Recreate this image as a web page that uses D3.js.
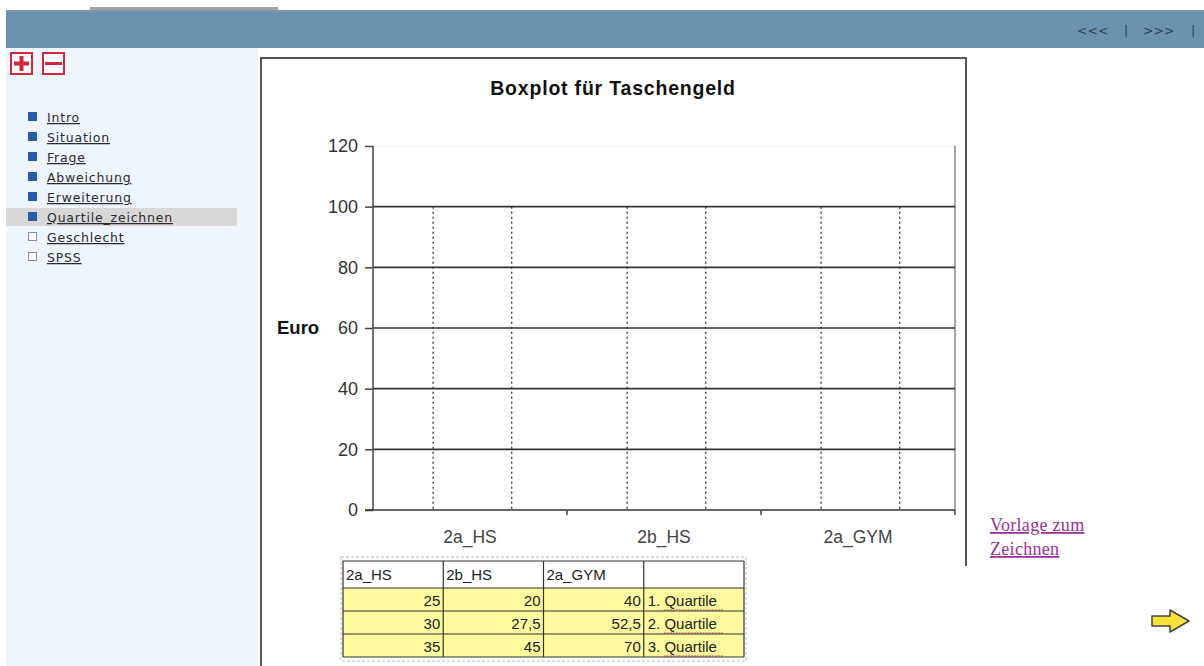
<!DOCTYPE html>
<html>
<head>
<meta charset="utf-8">
<script src="https://cdn.jsdelivr.net/npm/d3@7"></script>
<style>
  body { margin: 0; background: #fff; }
  svg { display: block; }
</style>
</head>
<body>
<div id="page"></div>
<script>
// data
const categories = ["2a_HS", "2b_HS", "2a_GYM"];
const quartile1 = [25, 20, 40];
const quartile2 = [30, 27.5, 52.5];
const quartile3 = [35, 45, 70];
const rowLabels = ["1. Quartile", "2. Quartile", "3. Quartile"];
const yTicks = [0, 20, 40, 60, 80, 100, 120];
const navItems = ["Intro", "Situation", "Frage", "Abweichung", "Erweiterung", "Quartile_zeichnen", "Geschlecht", "SPSS"];
const navDone = [true, true, true, true, true, true, false, false];
const currentItem = "Quartile_zeichnen";

const W = 1204, H = 666;
const svg = d3.select("#page").append("svg")
    .attr("width", W)
    .attr("height", H);

// header bar
svg.append("rect").attr("x", 90).attr("y", 7).attr("width", 188).attr("height", 3).attr("fill", "#9aa4ad");
svg.append("rect").attr("x", 6).attr("y", 10).attr("width", W - 6).attr("height", 38).attr("fill", "#6a91ae");
svg.append("rect").attr("x", 6).attr("y", 10).attr("width", W - 6).attr("height", 1.5).attr("fill", "#8a97a3");

const topNav = svg.append("g")
    .attr("font-family", "DejaVu Sans, Verdana, sans-serif")
    .attr("font-size", 12.5)
    .attr("fill", "#2f4356");
topNav.append("text").attr("x", 1077).attr("y", 35).text("<<<");
topNav.append("text").attr("x", 1124).attr("y", 35).text("|");
topNav.append("text").attr("x", 1143).attr("y", 35).text(">>>");
topNav.append("text").attr("x", 1191).attr("y", 35).text("|");

// sidebar
svg.append("rect").attr("x", 6).attr("y", 48).attr("width", 252).attr("height", H - 48).attr("fill", "#eef5fd");

const icons = svg.append("g").attr("stroke", "#d0283c").attr("fill", "none").attr("stroke-width", 2);
icons.append("rect").attr("x", 11).attr("y", 53).attr("width", 21).attr("height", 21).attr("fill", "#fff");
icons.append("path").attr("d", "M21.5,56V71M14,63.5H29").attr("stroke-width", 4);
icons.append("rect").attr("x", 43).attr("y", 53).attr("width", 21).attr("height", 21).attr("fill", "#fff");
icons.append("path").attr("d", "M45,63.5H62").attr("stroke-width", 3);

const navY = d3.scalePoint().domain(navItems).range([117, 257]);
const nav = svg.append("g").selectAll("g")
    .data(navItems)
    .join("g")
    .attr("transform", d => `translate(0,${navY(d)})`);
nav.filter(d => d === currentItem)
    .append("rect").attr("x", 6).attr("y", -9).attr("width", 231).attr("height", 18).attr("fill", "#d8d8d8");
nav.append("rect")
    .attr("x", 28.5).attr("y", -4.5).attr("width", 8).attr("height", 8)
    .attr("fill", (d, i) => navDone[i] ? "#2a5da8" : "#fff")
    .attr("stroke", (d, i) => navDone[i] ? "#2a5da8" : "#6f93c4");
nav.append("text")
    .attr("x", 47).attr("y", 5)
    .attr("font-family", "DejaVu Sans, Verdana, sans-serif")
    .attr("font-size", 12.5)
    .attr("letter-spacing", 0.8)
    .attr("fill", "#2a2a2a")
    .attr("text-decoration", "underline")
    .text(d => d);

// chart frame
svg.append("path")
    .attr("d", "M261,666V58H966V566")
    .attr("fill", "none")
    .attr("stroke", "#555")
    .attr("stroke-width", 2);

svg.append("text")
    .attr("x", 613).attr("y", 95)
    .attr("text-anchor", "middle")
    .attr("font-family", "Liberation Sans, Arial, sans-serif")
    .attr("font-weight", "bold")
    .attr("font-size", 19.5)
    .attr("letter-spacing", 0.8)
    .attr("fill", "#111")
    .text("Boxplot für Taschengeld");

// scales
const plotL = 373, plotR = 955, plotT = 146, plotB = 510;
const y = d3.scaleLinear().domain([0, 120]).range([plotB, plotT]);
const x = d3.scaleBand().domain(categories).range([plotL, plotR]);

// light top and right edges of plot area
svg.append("path")
    .attr("d", `M${plotL},${plotT}H${plotR}`)
    .attr("stroke", "#eee").attr("fill", "none");
svg.append("line")
    .attr("x1", plotR).attr("x2", plotR).attr("y1", plotT).attr("y2", plotB)
    .attr("stroke", "#888").attr("stroke-width", 1.5);

// horizontal gridlines
svg.append("g").selectAll("line")
    .data(yTicks.filter(d => d > 0 && d < 120))
    .join("line")
    .attr("x1", plotL).attr("x2", plotR)
    .attr("y1", d => y(d)).attr("y2", d => y(d))
    .attr("stroke", "#333").attr("stroke-width", 1.6);

// dotted guide lines for the boxes (template)
const guides = [];
categories.forEach(c => {
  guides.push(x(c) + x.bandwidth() * 0.31);
  guides.push(x(c) + x.bandwidth() * 0.715);
});
svg.append("g").selectAll("line")
    .data(guides)
    .join("line")
    .attr("x1", d => d).attr("x2", d => d)
    .attr("y1", y(100)).attr("y2", plotB)
    .attr("stroke", "#333")
    .attr("stroke-width", 1.3)
    .attr("stroke-dasharray", "2,3");

// y axis
svg.append("g")
    .attr("transform", `translate(${plotL},0)`)
    .call(d3.axisLeft(y).tickValues(yTicks).tickSize(8).tickPadding(7))
    .call(g => g.select(".domain").attr("stroke", "#444").attr("stroke-width", 1.5).attr("d", `M0,${plotT}V${plotB}`))
    .call(g => g.selectAll(".tick line").attr("stroke", "#444").attr("stroke-width", 1.5))
    .call(g => g.selectAll(".tick text")
        .attr("font-family", "Liberation Sans, Arial, sans-serif")
        .attr("font-size", 18)
        .attr("fill", "#333"));

// x axis
svg.append("g")
    .attr("transform", `translate(0,${plotB})`)
    .call(d3.axisBottom(x).tickSize(0).tickPadding(21))
    .call(g => g.select(".domain").attr("stroke", "#333").attr("stroke-width", 1.6).attr("d", `M${plotL - 8},0H${plotR}`))
    .call(g => g.selectAll(".tick text")
        .attr("font-family", "Liberation Sans, Arial, sans-serif")
        .attr("font-size", 17.5)
        .attr("fill", "#444"));
svg.append("g").selectAll("line")
    .data(categories.slice(1).map(c => x(c)).concat([plotR]))
    .join("line")
    .attr("x1", d => d).attr("x2", d => d)
    .attr("y1", plotB).attr("y2", plotB + 5)
    .attr("stroke", "#444").attr("stroke-width", 1.5);

svg.append("text")
    .attr("x", 277).attr("y", 334)
    .attr("font-family", "Liberation Sans, Arial, sans-serif")
    .attr("font-weight", "bold")
    .attr("font-size", 18.5)
    .attr("fill", "#111")
    .text("Euro");

// data table
const tX = d3.scaleBand().domain(d3.range(4)).range([343, 744]);
const tTop = 561, headH = 27, rowH = 23;
const table = svg.append("g")
    .attr("font-family", "Liberation Sans, Arial, sans-serif")
    .attr("font-size", 15)
    .attr("fill", "#222");

table.append("rect")
    .attr("x", 341).attr("y", 557).attr("width", 405).attr("height", 104)
    .attr("fill", "none").attr("stroke", "#bbb").attr("stroke-dasharray", "3,2");
table.append("rect")
    .attr("x", 343).attr("y", tTop + headH).attr("width", 401).attr("height", rowH * 3)
    .attr("fill", "#fbfa9e");

table.selectAll(".head")
    .data(categories)
    .join("text")
    .attr("class", "head")
    .attr("x", (d, i) => tX(i) + 3)
    .attr("y", tTop + 19)
    .text(d => d);

// one row per quartile, one column per class
const rows = [quartile1, quartile2, quartile3];
const fmt = v => String(v).replace(".", ",");
rows.forEach((r, ri) => {
  const ry = tTop + headH + ri * rowH;
  table.selectAll(null)
      .data(r)
      .join("text")
      .attr("x", (d, i) => tX(i) + tX.bandwidth() - 3)
      .attr("y", ry + 18)
      .attr("text-anchor", "end")
      .text(fmt);
  table.append("text")
      .attr("x", tX(3) + 4)
      .attr("y", ry + 18)
      .text(rowLabels[ri]);
  table.append("path")
      .attr("d", `M${tX(3) + 20},${ry + 22}h${60}`)
      .attr("stroke", "#e04040").attr("stroke-width", 1).attr("stroke-dasharray", "2,1");
});

// grid of the table
const tg = table.append("g").attr("stroke", "#333").attr("stroke-width", 1.2);
[tTop, tTop + headH, tTop + headH + rowH, tTop + headH + 2 * rowH, tTop + headH + 3 * rowH].forEach(yy =>
  tg.append("line").attr("x1", 343).attr("x2", 744).attr("y1", yy).attr("y2", yy));
d3.range(4).map(i => tX(i)).concat([744]).forEach(xx =>
  tg.append("line").attr("x1", xx).attr("x2", xx).attr("y1", tTop).attr("y2", tTop + headH + 3 * rowH));

// link on the right
const link = svg.append("g")
    .attr("font-family", "Liberation Serif, Times New Roman, serif")
    .attr("font-size", 18)
    .attr("letter-spacing", 0.3)
    .attr("fill", "#9b2f9b")
    .attr("text-decoration", "underline");
link.append("text").attr("x", 990).attr("y", 531).text("Vorlage zum");
link.append("text").attr("x", 990).attr("y", 555).text("Zeichnen");

// next arrow
svg.append("path")
    .attr("d", "M1152,616H1170V610L1189,621L1170,632V626H1152Z")
    .attr("fill", "#f7e23a")
    .attr("stroke", "#444")
    .attr("stroke-width", 1.5)
    .attr("stroke-linejoin", "round");
</script>
</body>
</html>
